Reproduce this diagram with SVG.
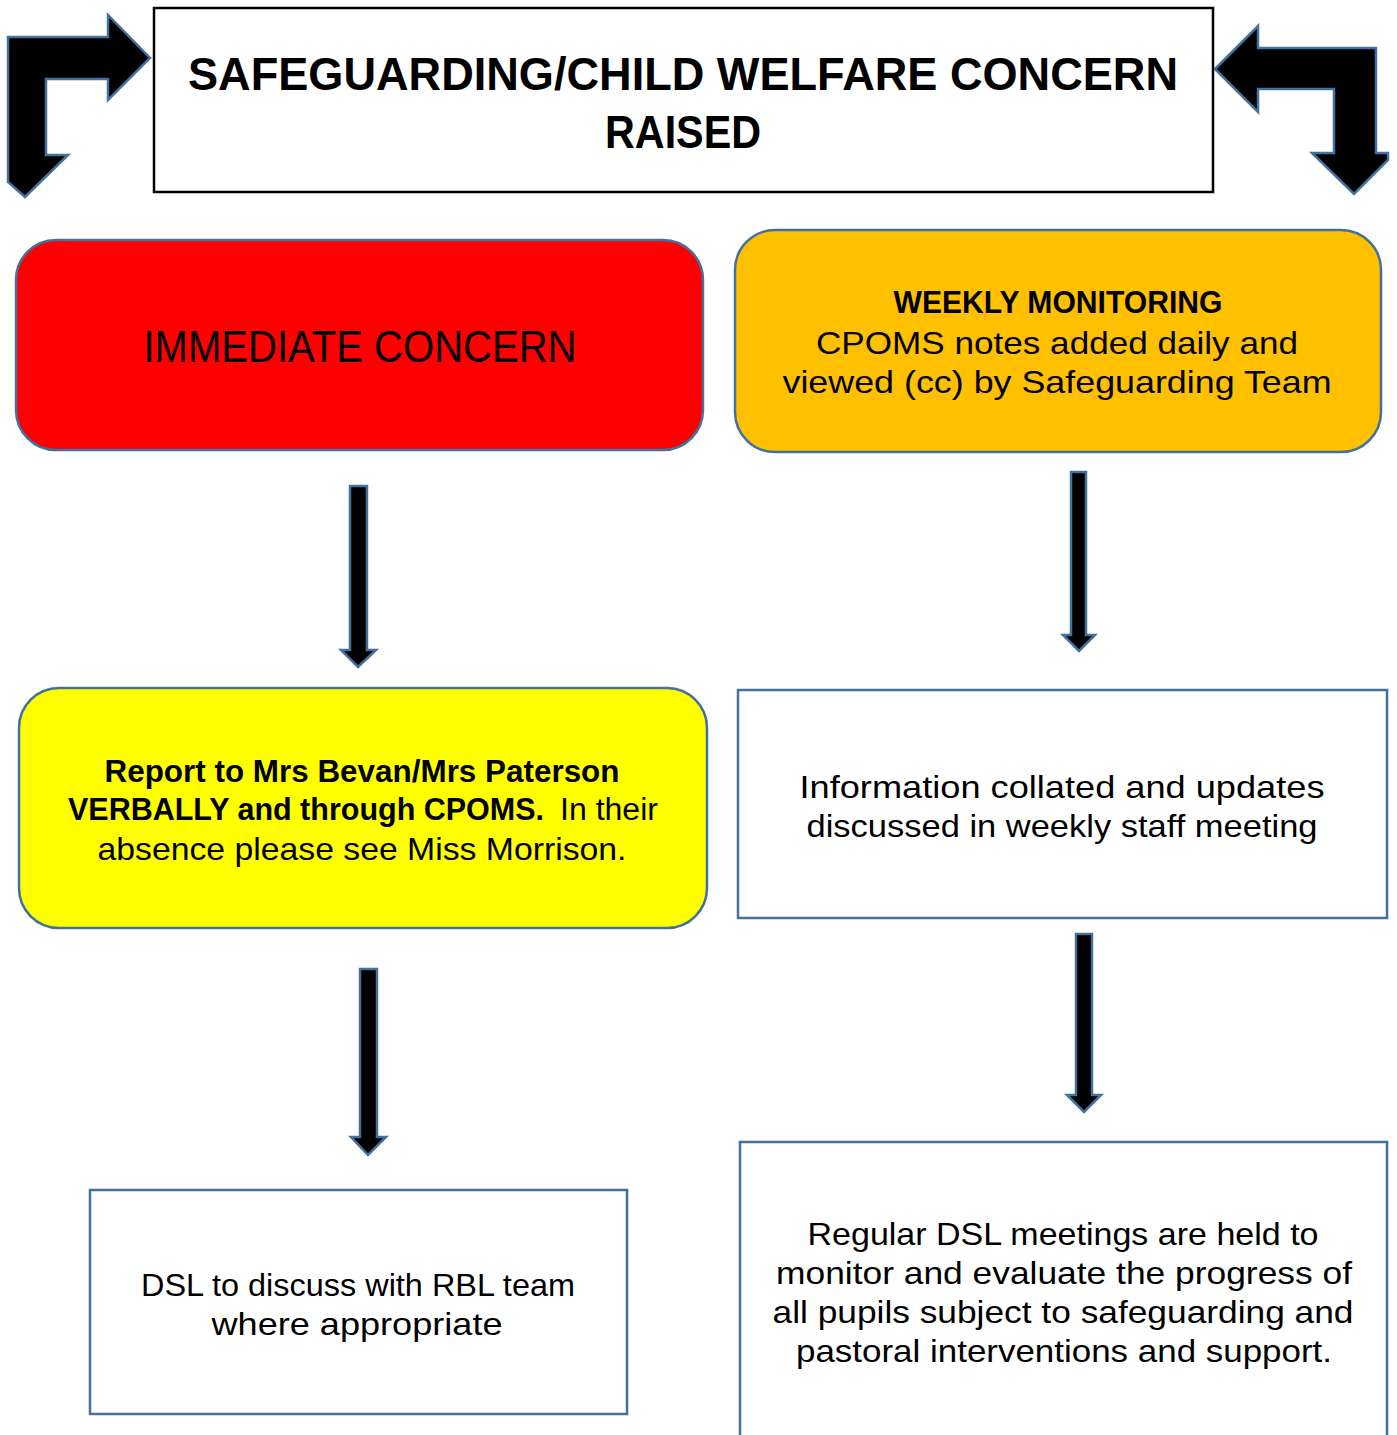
<svg xmlns="http://www.w3.org/2000/svg" width="1397" height="1435" viewBox="0 0 1397 1435">
<style>
text{font-family:"Liberation Sans",Arial,sans-serif;fill:#000;text-anchor:middle}
.t{font-size:32px}
.b{font-weight:bold}
.s{text-anchor:start}
.box{stroke:#41719c;stroke-width:2.5}
.arr{fill:#000;stroke:#41719c;stroke-width:2.5;stroke-linejoin:miter}
</style>
<rect width="1397" height="1435" fill="#fff"/>
<g id="connectors">
<polygon class="arr" points="8,37 108,37 108,15 150,58 108,100 108,79 46,79 46,155 68,155 25,197 8,182"/>
<polygon class="arr" points="1215,69 1258,26 1258,48 1376,48 1376,153 1388,153 1388,160 1354,194 1312,153 1334,153 1334,89 1258,89 1258,112"/>
<polygon class="arr" points="350,486 367,486 367,650 376,650 358,667 341,650 350,650"/>
<polygon class="arr" points="1071,472 1086,472 1086,635 1095,635 1079,651 1063,635 1071,635"/>
<polygon class="arr" points="360,969 377,969 377,1137 386,1137 368,1155 351,1137 360,1137"/>
<polygon class="arr" points="1076,934 1092,934 1092,1095 1101,1095 1084,1112 1067,1095 1076,1095"/>
</g>
<g id="title">
<rect x="154" y="8" width="1059" height="184" fill="#fff" stroke="#000" stroke-width="2.5"/>
<text class="b" x="683" y="90" font-size="47" textLength="990" lengthAdjust="spacingAndGlyphs">SAFEGUARDING/CHILD WELFARE CONCERN</text>
<text class="b" x="683" y="148" font-size="47" textLength="156" lengthAdjust="spacingAndGlyphs">RAISED</text>
</g>
<g id="immediate">
<rect class="box" x="16" y="240" width="687" height="210" rx="40" fill="#ff0000"/>
<text x="360" y="362" font-size="44" textLength="433" lengthAdjust="spacingAndGlyphs">IMMEDIATE CONCERN</text>
</g>
<g id="weekly">
<rect class="box" x="735" y="230" width="646" height="222" rx="40" fill="#ffc000"/>
<text class="t b" x="1058" y="313" textLength="329" lengthAdjust="spacingAndGlyphs">WEEKLY MONITORING</text>
<text class="t" x="1057" y="354" textLength="482" lengthAdjust="spacingAndGlyphs">CPOMS notes added daily and</text>
<text class="t" x="1057" y="393" textLength="549" lengthAdjust="spacingAndGlyphs">viewed (cc) by Safeguarding Team</text>
</g>
<g id="report">
<rect class="box" x="19" y="688" width="688" height="240" rx="40" fill="#ffff00"/>
<text class="t b" x="362" y="782" textLength="515" lengthAdjust="spacingAndGlyphs">Report to Mrs Bevan/Mrs Paterson</text>
<text class="b s" x="68" y="820" font-size="31" textLength="476" lengthAdjust="spacingAndGlyphs">VERBALLY and through CPOMS.</text>
<text class="s" x="560" y="820" font-size="31" textLength="98" lengthAdjust="spacingAndGlyphs">In their</text>
<text class="t" x="362" y="860" textLength="529" lengthAdjust="spacingAndGlyphs">absence please see Miss Morrison.</text>
</g>
<g id="info">
<rect class="box" x="738" y="690" width="649" height="228" fill="#fff"/>
<text class="t" x="1062" y="798" textLength="525" lengthAdjust="spacingAndGlyphs">Information collated and updates</text>
<text class="t" x="1062" y="837" textLength="511" lengthAdjust="spacingAndGlyphs">discussed in weekly staff meeting</text>
</g>
<g id="dsl">
<rect class="box" x="90" y="1190" width="537" height="224" fill="#fff"/>
<text class="t" x="358" y="1296" textLength="434" lengthAdjust="spacingAndGlyphs">DSL to discuss with RBL team</text>
<text class="t" x="357" y="1335" textLength="291" lengthAdjust="spacingAndGlyphs">where appropriate</text>
</g>
<g id="regular">
<rect class="box" x="740" y="1142" width="647" height="310" fill="#fff"/>
<text class="t" x="1063" y="1245" textLength="511" lengthAdjust="spacingAndGlyphs">Regular DSL meetings are held to</text>
<text class="t" x="1064" y="1284" textLength="576" lengthAdjust="spacingAndGlyphs">monitor and evaluate the progress of</text>
<text class="t" x="1063" y="1323" textLength="581" lengthAdjust="spacingAndGlyphs">all pupils subject to safeguarding and</text>
<text class="t" x="1064" y="1362" textLength="536" lengthAdjust="spacingAndGlyphs">pastoral interventions and support.</text>
</g>
</svg>
